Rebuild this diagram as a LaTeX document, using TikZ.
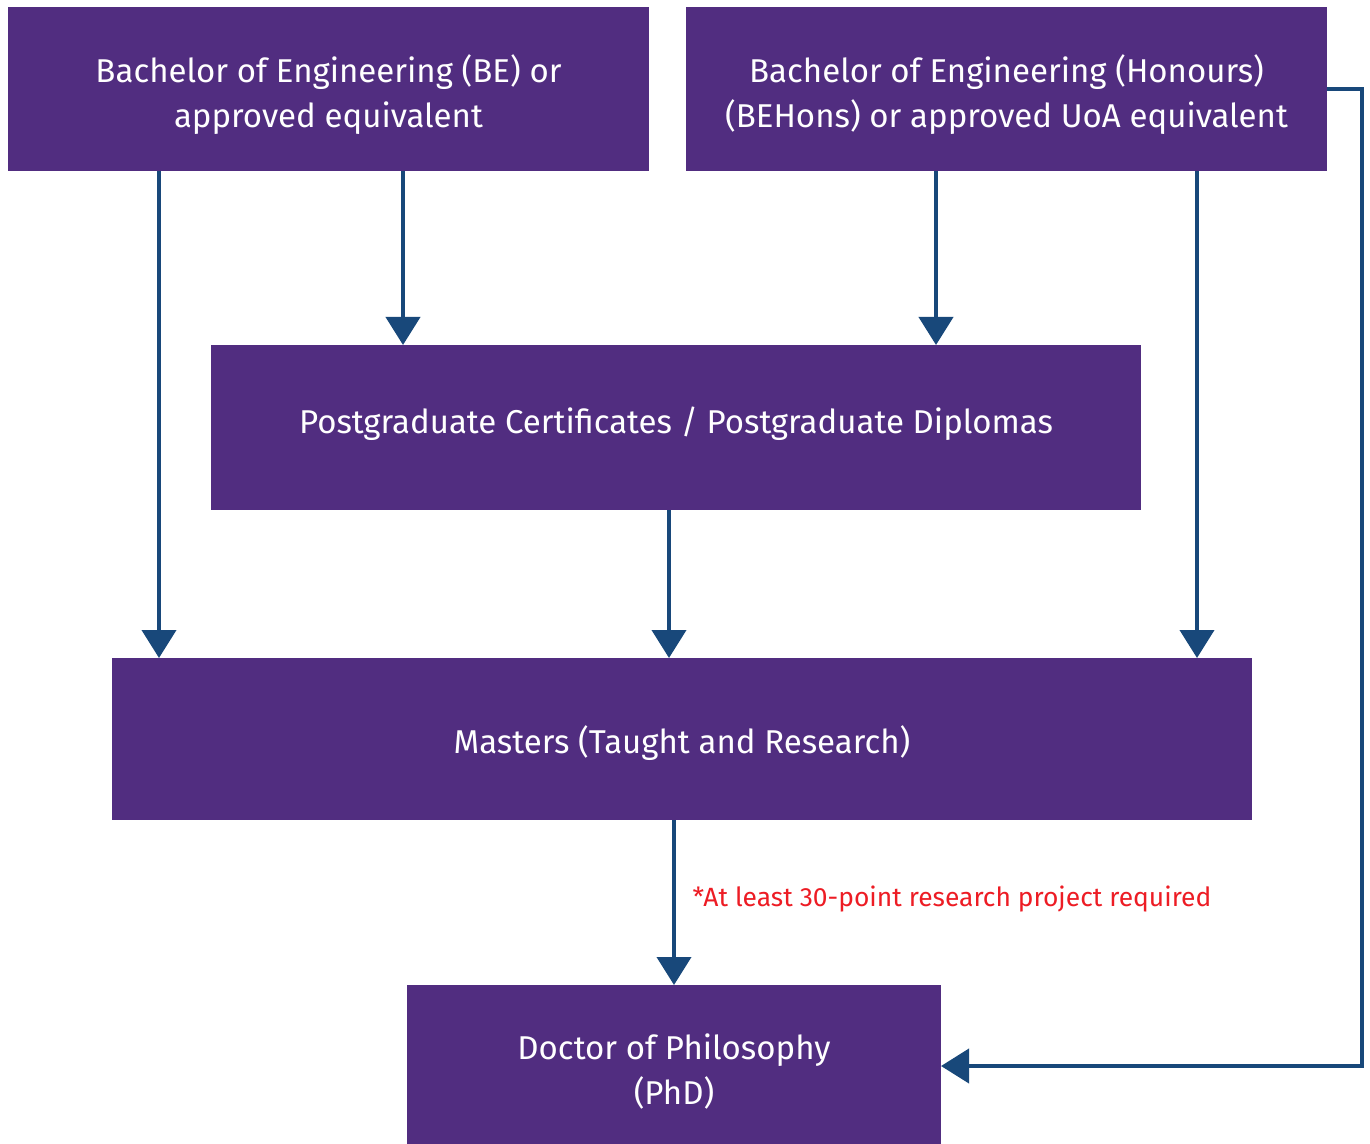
\documentclass[tikz,border=0pt]{standalone}
\usepackage{fontspec}
\setmainfont{Fira Sans}
\usetikzlibrary{arrows.meta}
\definecolor{boxpurple}{RGB}{81,45,128}
\definecolor{arrowblue}{RGB}{24,72,122}
\definecolor{notered}{RGB}{237,28,36}
\tikzset{
  box/.style={rectangle, fill=boxpurple, draw=none, inner sep=0pt, outer sep=0pt},
  boxtext/.style={text=white, align=center, inner sep=0pt,
    font=\fontsize{16.5}{22.5}\selectfont},
  arr/.style={draw=arrowblue, line width=2pt,
    -{Triangle[length=14pt,width=17pt]}},
  note/.style={text=notered, font=\fontsize{13.2}{15}\selectfont, inner sep=0pt}
}
\begin{document}
\begin{tikzpicture}[x=0.5pt,y=-0.5pt]
\clip (0,0) rectangle (1370,1144);
\fill[white] (0,0) rectangle (1370,1144);
\node[box, minimum width=320.5pt, minimum height=82pt,
  label={[boxtext, yshift=-3pt]center:{Bachelor of Engineering (BE) or\\approved equivalent}}] (be) at (328.5,89) {};
\node[box, minimum width=320.5pt, minimum height=82pt,
  label={[boxtext, yshift=-3pt]center:{Bachelor of Engineering (Honours)\\(BEHons) or approved UoA equivalent}}] (beh) at (1006.5,89) {};
\node[box, minimum width=465pt, minimum height=82.5pt,
  label={[boxtext, yshift=2pt]center:{Postgraduate Certificates / Postgraduate Diplomas}}] (pg) at (676,427.5) {};
\node[box, minimum width=570pt, minimum height=81pt,
  label={[boxtext, yshift=-2pt]center:{Masters (Taught and Research)}}] (ms) at (682,739) {};
\node[box, minimum width=267pt, minimum height=81pt,
  label={[boxtext, yshift=-3pt]center:{Doctor of Philosophy\\(PhD)}}] (phd) at (674,1066) {};
\coordinate (c1) at (159,0);
\coordinate (c2) at (403,0);
\coordinate (c3) at (936,0);
\coordinate (c4) at (1197,0);
\coordinate (c5) at (669,0);
\coordinate (c6) at (674,0);
\coordinate (cR) at (1362,0);
\draw[arr] (be.south -| c1) -- (ms.north -| c1);
\draw[arr] (be.south -| c2) -- (pg.north -| c2);
\draw[arr] (beh.south -| c3) -- (pg.north -| c3);
\draw[arr] (beh.south -| c4) -- (ms.north -| c4);
\draw[arr] (pg.south -| c5) -- (ms.north -| c5);
\draw[arr] (ms.south -| c6) -- (phd.north -| c6);
\draw[arr] (beh.east) -- (beh.east -| cR) -- (phd.east -| cR) -- (phd.east);
\node[note] (nt) at (952,899) {*At least 30-point research project required};
\end{tikzpicture}
\end{document}
